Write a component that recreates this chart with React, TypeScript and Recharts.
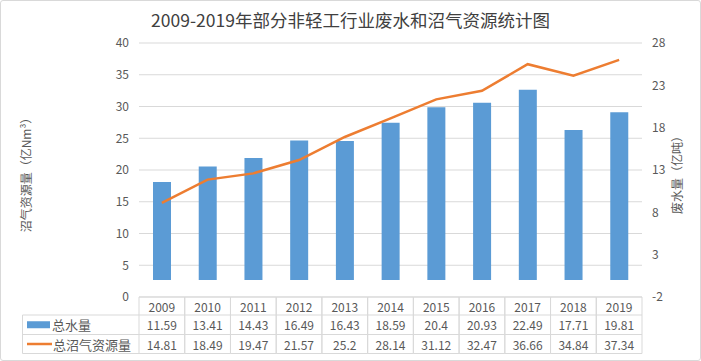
import { ComposedChart, Bar, Line, XAxis, YAxis, CartesianGrid } from 'recharts';

const years = ['2009', '2010', '2011', '2012', '2013', '2014', '2015', '2016', '2017', '2018', '2019'];
const waterTotal = [11.59, 13.41, 14.43, 16.49, 16.43, 18.59, 20.4, 20.93, 22.49, 17.71, 19.81];
const biogasTotal = [14.81, 18.49, 19.47, 21.57, 25.2, 28.14, 31.12, 32.47, 36.66, 34.84, 37.34];
const leftTicks = [0, 5, 10, 15, 20, 25, 30, 35, 40];
const rightTicks = [-2, 3, 8, 13, 18, 23, 28];

const seriesNames = ['总水量', '总沼气资源量'];

const data = years.map((year, i) => ({
  year,
  water: waterTotal[i],
  biogas: biogasTotal[i],
}));

const W = 701;
const H = 361;
const PLOT_LEFT = 139;
const PLOT_RIGHT = 642;
const ROW_Y = [297, 315, 334.5, 353.5];
const TABLE_LEFT = 22.5;
const FONT = '"Noto Sans CJK SC", "Noto Sans", sans-serif';
const TEXT = '#595959';
const BORDER = '#d9d9d9';
const BLUE = '#5B9BD5';
const ORANGE = '#ED7D31';

const band = (PLOT_RIGHT - PLOT_LEFT) / years.length;

// table under the plot, drawn as the x axis ticks
function TableTick(props: any) {
  const { x, payload } = props;
  const i = payload.index;
  const x0 = x - band / 2;
  const x1 = x + band / 2;
  return (
    <g fontFamily={FONT} fontSize={12} fill={TEXT}>
      {ROW_Y.map((ry) => (
        <line key={ry} x1={x0} x2={x1} y1={ry} y2={ry} stroke={BORDER} />
      ))}
      <line x1={x0} x2={x0} y1={ROW_Y[0]} y2={ROW_Y[3]} stroke={BORDER} />
      <line x1={x1} x2={x1} y1={ROW_Y[0]} y2={ROW_Y[3]} stroke={BORDER} />
      <text x={x} y={(ROW_Y[0] + ROW_Y[1]) / 2} textAnchor="middle" dominantBaseline="central">{payload.value}</text>
      <text x={x} y={(ROW_Y[1] + ROW_Y[2]) / 2} textAnchor="middle" dominantBaseline="central">{String(waterTotal[i])}</text>
      <text x={x} y={(ROW_Y[2] + ROW_Y[3]) / 2} textAnchor="middle" dominantBaseline="central">{String(biogasTotal[i])}</text>
      {i === 0 && (
        <g>
          <line x1={TABLE_LEFT} x2={x0} y1={ROW_Y[1]} y2={ROW_Y[1]} stroke={BORDER} />
          <line x1={TABLE_LEFT} x2={x0} y1={ROW_Y[2]} y2={ROW_Y[2]} stroke={BORDER} />
          <line x1={TABLE_LEFT} x2={x0} y1={ROW_Y[3]} y2={ROW_Y[3]} stroke={BORDER} />
          <line x1={TABLE_LEFT} x2={TABLE_LEFT} y1={ROW_Y[1]} y2={ROW_Y[3]} stroke={BORDER} />
          <rect x={27} y={(ROW_Y[1] + ROW_Y[2]) / 2 - 3.5} width={23} height={7} fill={BLUE} />
          <text x={52} y={(ROW_Y[1] + ROW_Y[2]) / 2} dominantBaseline="central" fontSize={13}>{seriesNames[0]}</text>
          <line x1={27} x2={52} y1={(ROW_Y[2] + ROW_Y[3]) / 2} y2={(ROW_Y[2] + ROW_Y[3]) / 2} stroke={ORANGE} strokeWidth={2.5} />
          <text x={53} y={(ROW_Y[2] + ROW_Y[3]) / 2} dominantBaseline="central" fontSize={13}>{seriesNames[1]}</text>
        </g>
      )}
    </g>
  );
}

export default function App() {
  return (
    <div style={{ position: 'fixed', left: 0, top: 0, width: W, height: H, background: '#fff', fontFamily: FONT }}>
      <div style={{ position: 'absolute', left: 0, top: 0, width: W - 2, height: H - 2, border: `1px solid ${BORDER}`, borderRadius: 3 }} />
      <div style={{ position: 'absolute', left: 0, top: 8, width: W, textAlign: 'center', fontSize: 17.5, color: '#404040', lineHeight: '24px' }}>
        2009-2019年部分非轻工行业废水和沼气资源统计图
      </div>
      <div style={{ position: 'absolute', left: 25, top: 172, transform: 'translate(-50%, -50%) rotate(-90deg)', whiteSpace: 'nowrap', fontSize: 12, color: TEXT }}>
        沼气资源量（亿Nm³）
      </div>
      <div style={{ position: 'absolute', left: 676, top: 172, transform: 'translate(-50%, -50%) rotate(-90deg)', whiteSpace: 'nowrap', fontSize: 12, color: TEXT }}>
        废水量（亿吨）
      </div>
      <div style={{ position: 'absolute', left: 0, top: 0 }}>
        <ComposedChart width={W} height={H} data={data} margin={{ top: 43, right: 0, bottom: 0, left: 0 }} barSize={18}>
          <CartesianGrid yAxisId="left" vertical={false} stroke={BORDER} />
          <XAxis dataKey="year" height={64} axisLine={false} tickLine={false} interval={0} tick={<TableTick />} />
          <YAxis
            yAxisId="left"
            width={PLOT_LEFT}
            domain={[0, 40]}
            ticks={leftTicks}
            axisLine={false}
            tickLine={false}
            tickSize={0}
            tickMargin={10}
            tick={{ fill: TEXT, fontSize: 12, fontFamily: FONT }}
          />
          <YAxis
            yAxisId="right"
            orientation="right"
            width={W - PLOT_RIGHT}
            domain={[-2, 28]}
            ticks={rightTicks}
            axisLine={false}
            tickLine={false}
            tickSize={0}
            tickMargin={10}
            tick={{ fill: TEXT, fontSize: 12, fontFamily: FONT }}
          />
          <Bar yAxisId="right" dataKey="water" name={seriesNames[0]} fill={BLUE} isAnimationActive={false} />
          <Line yAxisId="left" type="linear" dataKey="biogas" name={seriesNames[1]} stroke={ORANGE} strokeWidth={2.5} dot={false} isAnimationActive={false} />
        </ComposedChart>
      </div>
    </div>
  );
}
